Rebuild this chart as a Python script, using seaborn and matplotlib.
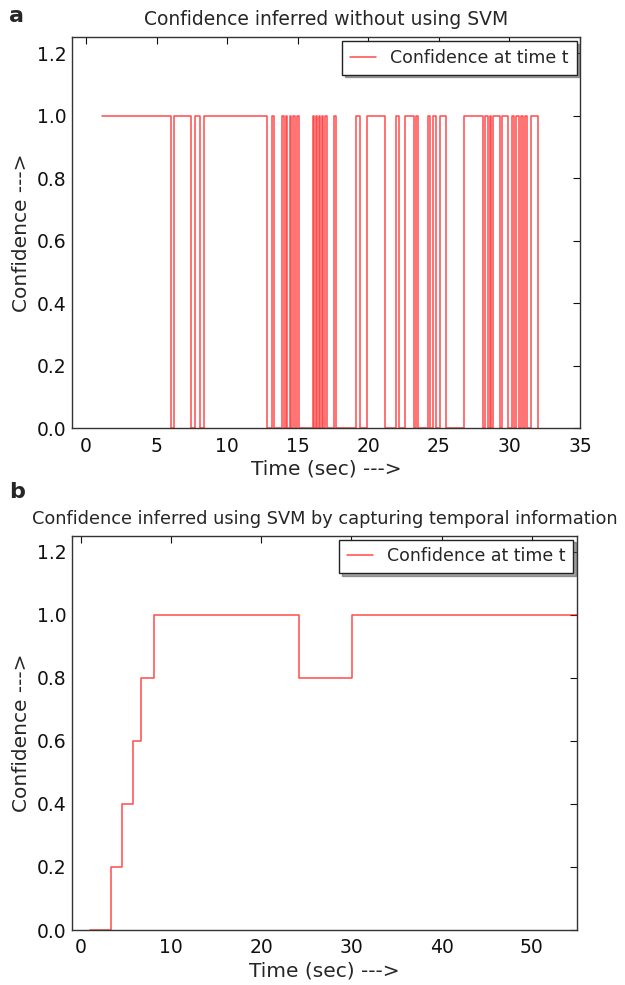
import matplotlib
matplotlib.use("Agg")
import matplotlib.pyplot as plt
import seaborn as sns
import pandas as pd

# ---- data: panel a (switch times and confidence values, step-post) ----
time_a = [1.1, 6.0, 6.25, 7.45, 7.7, 8.05, 8.35, 12.85, 13.15, 13.35,
          13.9, 14.0, 14.15, 14.25, 14.45, 14.55, 14.7, 14.8, 14.95, 15.1,
          16.05, 16.15, 16.3, 16.4, 16.5, 16.6, 16.7, 16.8, 16.95, 17.1,
          17.6, 17.7, 19.1, 19.4, 19.9, 21.15, 21.95, 22.15, 22.6, 23.25,
          23.4, 23.55, 24.2, 24.35, 24.6, 24.8, 25.05, 25.5, 26.8, 28.15,
          28.3, 28.45, 28.6, 28.7, 28.85, 29.3, 29.45, 29.9, 30.15, 30.35,
          30.5, 30.65, 30.8, 30.95, 31.1, 31.25, 31.55, 32.05]
conf_a = [1, 0, 1, 0, 1, 0, 1, 0, 1, 0,
          1, 0, 1, 0, 1, 0, 1, 0, 1, 0,
          1, 0, 1, 0, 1, 0, 1, 0, 1, 0,
          1, 0, 1, 0, 1, 0, 1, 0, 1, 0,
          1, 0, 1, 0, 1, 0, 1, 0, 1, 0,
          1, 0, 1, 0, 1, 0, 1, 0, 1, 0,
          1, 0, 1, 0, 1, 0, 1, 0]

# ---- data: panel b ----
time_b = [1.0, 3.3, 4.6, 5.8, 6.7, 8.1, 24.2, 30.1, 55.0]
conf_b = [0.0, 0.2, 0.4, 0.6, 0.8, 1.0, 0.8, 1.0, 1.0]

yticks = [0.0, 0.2, 0.4, 0.6, 0.8, 1.0, 1.2]
xticks_a = [0, 5, 10, 15, 20, 25, 30, 35]
xticks_b = [0, 10, 20, 30, 40, 50]

title_a = "Confidence inferred without using SVM"
title_b = "Confidence inferred using SVM by capturing temporal information"
legend_label = "Confidence at time t"

sns.set_style("white")
plt.rcParams['font.family'] = ['DejaVu Sans']
plt.rcParams['font.size'] = 12

fig = plt.figure(figsize=(6.25, 9.85), dpi=100)
ax_a = fig.add_axes([0.115, 0.565, 0.813, 0.397])
ax_b = fig.add_axes([0.115, 0.0558, 0.808, 0.400])

df_a = pd.DataFrame({"t": time_a, "c": conf_a})
df_b = pd.DataFrame({"t": time_b, "c": conf_b})

for ax, df, xt, xl, title, tfs in [(ax_a, df_a, xticks_a, (-1, 35), title_a, 13.5),
                                  (ax_b, df_b, xticks_b, (-1, 55), title_b, 12.8)]:
    sns.lineplot(data=df, x="t", y="c", ax=ax, estimator=None, sort=False,
                 drawstyle="steps-post", color="red", alpha=0.7,
                 linewidth=1.1, label=legend_label)
    ax.set_xlim(*xl)
    ax.set_ylim(0, 1.25)
    ax.set_xticks(xt)
    ax.set_yticks(yticks)
    ax.set_yticklabels([f"{v:.1f}" for v in yticks])
    ax.tick_params(direction="in", top=True, right=True, length=5,
                   width=0.8, labelsize=13.5, colors="#111111")
    ax.tick_params(axis="y", pad=4)
    ax.tick_params(axis="x", pad=6)
    for s in ax.spines.values():
        s.set_visible(True)
        s.set_color("#333333")
        s.set_linewidth(1.0)
    ax.set_xlabel("Time (sec) --->", fontsize=14.5, labelpad=3)
    ax.set_ylabel("Confidence --->", fontsize=14.5, labelpad=4)
    ax.set_title(title, fontsize=tfs, pad=9)
    leg = ax.legend(loc="upper right", fontsize=12.5, fancybox=False,
                    shadow=True, frameon=True, borderaxespad=0.2,
                    handlelength=1.5, borderpad=0.45)
    leg.get_frame().set_edgecolor("#222222")
    leg.get_frame().set_linewidth(1.0)

fig.text(0.014, 0.984, "a", fontsize=16, fontweight="bold", va="center")
fig.text(0.014, 0.5, "b", fontsize=16, fontweight="bold", va="center")

fig.savefig("out.png", dpi=100)
